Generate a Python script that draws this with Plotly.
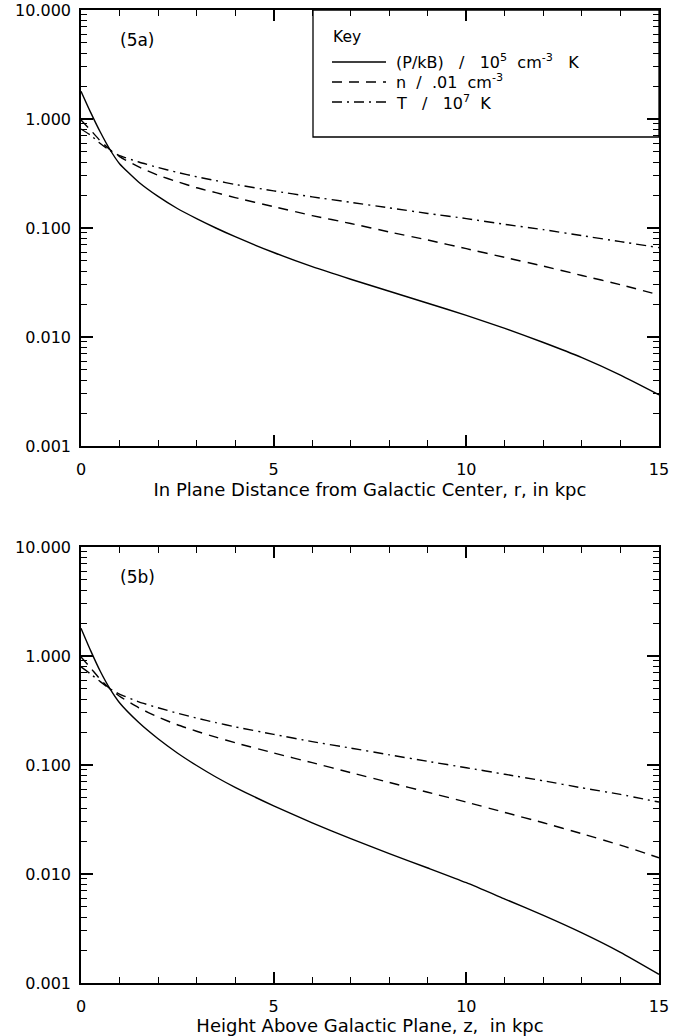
import plotly.graph_objects as go

# ---------------- data ----------------
x_vals = [0, 0.25, 0.5, 0.75, 1, 1.5, 2, 2.5, 3, 3.5, 4, 5, 6, 7, 8, 9, 10, 11, 12, 13, 14, 15]

# Panel 5a (vs r)
p_a = [1.80, 1.15, 0.759, 0.525, 0.389, 0.263, 0.195, 0.151, 0.122, 0.100, 0.0832, 0.0596, 0.0442,
       0.0339, 0.0263, 0.0204, 0.0158, 0.0120, 0.0089, 0.00646, 0.00447, 0.00295]
n_a = [0.98, 0.79, 0.63, 0.525, 0.452, 0.363, 0.305, 0.266, 0.234, 0.211, 0.190, 0.157, 0.130,
       0.110, 0.092, 0.0776, 0.0646, 0.0537, 0.0447, 0.0367, 0.0302, 0.0243]
t_a = [0.81, 0.71, 0.596, 0.513, 0.462, 0.403, 0.359, 0.324, 0.295, 0.272, 0.251, 0.219, 0.193,
       0.172, 0.153, 0.136, 0.122, 0.108, 0.0966, 0.0851, 0.075, 0.066]

# Panel 5b (vs z)
p_b = [1.80, 1.12, 0.724, 0.501, 0.372, 0.245, 0.174, 0.129, 0.0989, 0.0776, 0.0624, 0.0422, 0.0295,
       0.0211, 0.0154, 0.01135, 0.00832, 0.00589, 0.00417, 0.00288, 0.00191, 0.00120]
n_b = [0.98, 0.776, 0.61, 0.501, 0.427, 0.335, 0.275, 0.234, 0.204, 0.180, 0.160, 0.129, 0.105,
       0.0851, 0.0692, 0.0562, 0.0457, 0.0367, 0.0295, 0.0234, 0.0184, 0.0141]
t_b = [0.794, 0.684, 0.582, 0.501, 0.447, 0.380, 0.335, 0.299, 0.269, 0.245, 0.224, 0.191, 0.164,
       0.143, 0.124, 0.108, 0.0944, 0.0822, 0.0716, 0.0617, 0.0537, 0.0457]

series_names = ["(P/kB)   /   10<sup>5</sup>  cm<sup>-3</sup>   K",
                "n  /  .01  cm<sup>-3</sup>",
                "T   /   10<sup>7</sup>  K"]
legend_title = "Key"
y_tickvals = [0.001, 0.01, 0.1, 1, 10]
y_ticktext = ["0.001", "0.010", "0.100", "1.000", "10.000"]
x_tickvals = [0, 5, 10, 15]
x_titles = ["In Plane Distance from Galactic Center, r, in kpc",
            "Height Above Galactic Plane, z,  in kpc"]
panel_labels = ["(5a)", "(5b)"]

# ---------------- figure ----------------
W, H = 690, 1036
FONT = "DejaVu Sans"
dashes = ["solid", "10px,7px", "10px,5px,2px,5px"]
LW = 1.4

fig = go.Figure()

panels = [(p_a, n_a, t_a), (p_b, n_b, t_b)]
for i, ser in enumerate(panels):
    xa = "x" if i == 0 else "x2"
    ya = "y" if i == 0 else "y2"
    for j, yv in enumerate(ser):
        fig.add_trace(go.Scatter(
            x=x_vals, y=yv, mode="lines", name=series_names[j],
            line=dict(color="black", width=LW, dash=dashes[j], shape="spline", smoothing=0.5),
            xaxis=xa, yaxis=ya, showlegend=False))


def px_x(p):
    return p / W


def px_y(p):
    return 1 - p / H


left, right = 81, 659
top_a, bot_a = 10, 446
top_b, bot_b = 547, 983

axis_common = dict(showline=True, linecolor="black", linewidth=1.5, mirror="allticks",
                   showgrid=False, zeroline=False, ticks="inside", tickcolor="black",
                   automargin=False, ticklabeloverflow="allow",
                   tickfont=dict(family=FONT, size=16, color="black"))

for i, (t, b) in enumerate([(top_a, bot_a), (top_b, bot_b)]):
    sfx = "" if i == 0 else "2"
    fig.update_layout(**{
        "xaxis" + sfx: dict(
            domain=[px_x(left), px_x(right)], range=[0, 15], anchor="y" + sfx,
            tickmode="array", tickvals=x_tickvals, ticklen=11, tickwidth=1.5,
            ticklabelstandoff=8,
            minor=dict(ticks="inside", dtick=1, tick0=0, ticklen=6, tickwidth=1.2, tickcolor="black"),
            title=dict(text=x_titles[i], font=dict(family=FONT, size=18, color="black"), standoff=5),
            **axis_common),
        "yaxis" + sfx: dict(
            domain=[px_y(b), px_y(t)], type="log", range=[-3, 1], anchor="x" + sfx,
            tickmode="array", tickvals=y_tickvals, ticktext=y_ticktext, ticklen=12, tickwidth=1.5,
            ticklabelstandoff=5,
            minor=dict(ticks="inside", tickvals=[m * 10 ** e for e in range(-3, 1) for m in range(2, 10)],
                       ticklen=6, tickwidth=1.2, tickcolor="black"),
            **axis_common),
    })
    fig.add_annotation(text=panel_labels[i], xref="paper", yref="paper",
                       x=px_x(118), y=px_y(t + 30), xanchor="left", yanchor="middle",
                       showarrow=False, font=dict(family=FONT, size=17, color="black"))

# ---- key box (IDL-style legend) ----
fig.add_shape(type="rect", xref="paper", yref="paper",
              x0=px_x(313), x1=px_x(right), y0=px_y(137), y1=px_y(top_a),
              line=dict(color="black", width=1.3), fillcolor="rgba(0,0,0,0)")
fig.add_annotation(text=legend_title, xref="paper", yref="paper",
                   x=px_x(331), y=px_y(37), xanchor="left", yanchor="middle",
                   showarrow=False, font=dict(family=FONT, size=15.5, color="black"))
row_y = [62, 82, 102]
for j in range(3):
    fig.add_shape(type="line", xref="paper", yref="paper",
                  x0=px_x(332), x1=px_x(386), y0=px_y(row_y[j]), y1=px_y(row_y[j]),
                  line=dict(color="black", width=LW, dash=dashes[j]))
    fig.add_annotation(text=series_names[j], xref="paper", yref="paper",
                       x=px_x(394), y=px_y(row_y[j]), xanchor="left", yanchor="middle",
                       showarrow=False, font=dict(family=FONT, size=16, color="black"))

fig.update_layout(
    width=W, height=H, margin=dict(l=0, r=0, t=0, b=0, autoexpand=False),
    paper_bgcolor="white", plot_bgcolor="white",
    showlegend=False,
)

# remove the browser's default 8px page margin so the figure fills the window exactly
fig.write_html("out.html", config={"displayModeBar": False},
               post_script="document.body.style.margin='0px';")
